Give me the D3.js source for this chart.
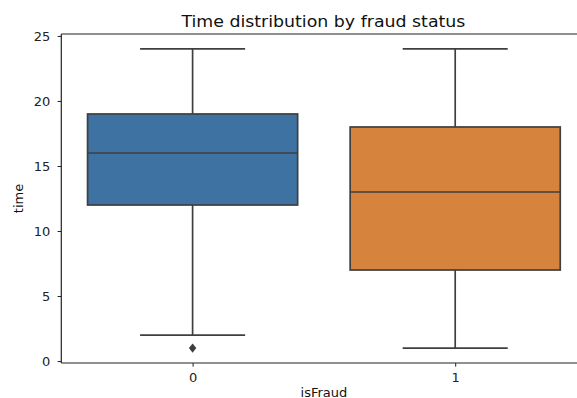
<!DOCTYPE html>
<html><head><meta charset="utf-8">
<script src="https://cdn.jsdelivr.net/npm/d3@7"></script>
<style>body{margin:0;background:#fff}svg{display:block;font-family:"DejaVu Sans",sans-serif}</style>
</head><body><svg id="c" width="577" height="398"></svg>
<script>
const categories = ["0", "1"];
const q1 = [12, 7];
const median = [16, 13];
const q3 = [19, 18];
const whiskerLow = [2, 1];
const whiskerHigh = [24, 24];
const outliers = [[1], []];
const colors = ["#3d72a2", "#d6843d"];
const yTicks = [0, 5, 10, 15, 20, 25];

const svg = d3.select("#c");
const mLeft = 61.3, mRight = 586.5, mTop = 34, mBottom = 363;
const x = d3.scaleLinear().domain([-0.5, 1.5]).range([mLeft, mRight]);
const y = d3.scaleLinear().domain([-0.15, 25.15]).range([mBottom, mTop]);
const line = "#3f3f3f";

const g = svg.append("g");
categories.forEach((c, i) => {
  const cg = g.append("g");
  cg.append("line").attr("x1", x(i)).attr("x2", x(i)).attr("y1", y(whiskerLow[i])).attr("y2", y(q1[i])).attr("stroke", line).attr("stroke-width", 1.7);
  cg.append("line").attr("x1", x(i)).attr("x2", x(i)).attr("y1", y(q3[i])).attr("y2", y(whiskerHigh[i])).attr("stroke", line).attr("stroke-width", 1.7);
  [whiskerLow[i], whiskerHigh[i]].forEach(v => {
    cg.append("line").attr("x1", x(i - 0.2)).attr("x2", x(i + 0.2)).attr("y1", y(v)).attr("y2", y(v)).attr("stroke", line).attr("stroke-width", 1.7);
  });
  cg.append("rect").attr("x", x(i - 0.4)).attr("width", x(i + 0.4) - x(i - 0.4))
    .attr("y", y(q3[i])).attr("height", y(q1[i]) - y(q3[i]))
    .attr("fill", colors[i]).attr("stroke", line).attr("stroke-width", 1.7);
  cg.append("line").attr("x1", x(i - 0.4)).attr("x2", x(i + 0.4)).attr("y1", y(median[i])).attr("y2", y(median[i])).attr("stroke", line).attr("stroke-width", 1.7);
  outliers[i].forEach(v => {
    const p = d3.path();
    p.moveTo(0, -4.6); p.lineTo(3.7, 0); p.lineTo(0, 4.6); p.lineTo(-3.7, 0); p.closePath();
    cg.append("path").attr("d", p.toString()).attr("transform", `translate(${x(i)},${y(v)})`).attr("fill", line);
  });
});

// axes
const ya = svg.append("g").attr("transform", `translate(${mLeft},0)`)
  .call(d3.axisLeft(y).tickValues(yTicks).tickSize(3.7).tickPadding(7.3));
const xa = svg.append("g").attr("transform", `translate(0,${mBottom})`)
  .call(d3.axisBottom(x).tickValues([0, 1]).tickFormat(d => categories[d]).tickSize(3.7).tickPadding(6));
[ya, xa].forEach(a => {
  a.select(".domain").remove();
  a.selectAll("line").attr("stroke", "#222").attr("stroke-width", 1);
  a.selectAll("text").attr("font-size", 13).attr("fill", "#222").attr("font-family", "DejaVu Sans");
});
// spines
svg.append("line").attr("x1", mLeft).attr("x2", mLeft).attr("y1", mTop).attr("y2", mBottom).attr("stroke", "#222").attr("stroke-width", 1.2);
svg.append("line").attr("x1", mLeft).attr("x2", mRight).attr("y1", mBottom).attr("y2", mBottom).attr("stroke", "#222").attr("stroke-width", 1.2);
svg.append("line").attr("x1", mLeft).attr("x2", mRight).attr("y1", mTop).attr("y2", mTop).attr("stroke", "#222").attr("stroke-width", 1.2);

svg.append("text").attr("transform", `translate(${(mLeft + mRight) / 2 - 0.5},27) scale(1.06,1)`).attr("text-anchor", "middle").attr("font-size", 16.4).attr("fill", "#111").text("Time distribution by fraud status");
svg.append("text").attr("x", (mLeft + mRight) / 2).attr("y", 397).attr("text-anchor", "middle").attr("font-size", 13).attr("fill", "#111").text("isFraud");
svg.append("text").attr("transform", `translate(22.5,${(mTop + mBottom) / 2}) rotate(-90)`).attr("text-anchor", "middle").attr("font-size", 13).attr("fill", "#111").text("time");
</script></body></html>
